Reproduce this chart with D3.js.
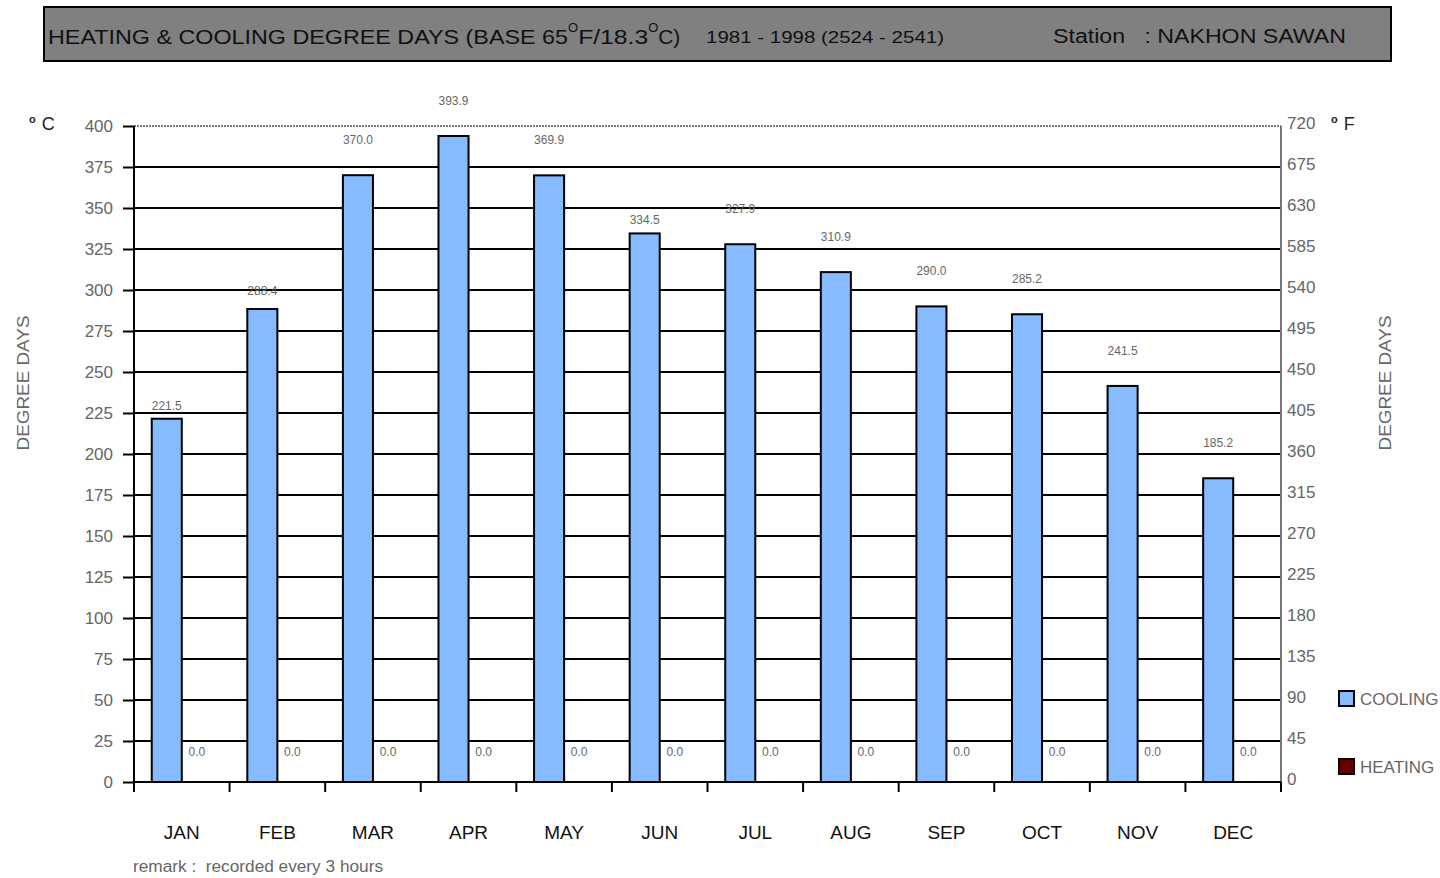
<!DOCTYPE html>
<html>
<head>
<meta charset="utf-8">
<script src="https://cdn.jsdelivr.net/npm/d3@7"></script>
<style>
  body { margin: 0; background: #fff; }
  svg { display: block; font-family: "Liberation Sans", Arial, sans-serif; }
</style>
</head>
<body>
<svg id="chart" width="1440" height="878"></svg>
<script>
// Monthly degree days, Nakhon Sawan 1981-1998
const months = ['JAN', 'FEB', 'MAR', 'APR', 'MAY', 'JUN', 'JUL', 'AUG', 'SEP', 'OCT', 'NOV', 'DEC'];
const cooling = [221.5, 288.4, 370.0, 393.9, 369.9, 334.5, 327.9, 310.9, 290.0, 285.2, 241.5, 185.2];
const heating = [0, 0, 0, 0, 0, 0, 0, 0, 0, 0, 0, 0];
const seriesNames = ['COOLING', 'HEATING'];
const celsiusTicks = d3.range(0, 401, 25);
const fahrenheitTicks = d3.range(0, 721, 45);

// label lift above bar top (Excel placed some labels lower)
const labelLift = [9, 14, 31, 31, 31, 9, 31, 31, 31, 31, 31, 31];

const colors = { COOLING: '#86bcff', HEATING: '#660000' };

const svg = d3.select('#chart');
const plot = { left: 134, right: 1281, top: 126, bottom: 782 };

const x0 = d3.scaleBand().domain(months).range([plot.left, plot.right]);
const x1 = d3.scaleBand().domain(seriesNames).range([0, x0.bandwidth()]).paddingOuter(0.59);
const y = d3.scaleLinear().domain([0, 400]).range([plot.bottom, plot.top]);
const yF = d3.scaleLinear().domain([0, 720]).range([plot.bottom, plot.top]);

// Title box
const title = svg.append('g');
title.append('rect')
  .attr('x', 44).attr('y', 7).attr('width', 1347).attr('height', 54)
  .attr('fill', '#808080').attr('stroke', '#000').attr('stroke-width', 2);
const t1 = title.append('text').attr('x', 48).attr('y', 44)
  .attr('font-size', 21).attr('fill', '#111');
t1.append('tspan').attr('textLength', 520).attr('lengthAdjust', 'spacingAndGlyphs')
  .text('HEATING & COOLING DEGREE DAYS (BASE 65');
t1.append('tspan').attr('dy', -12).attr('font-size', 13).text('O');
t1.append('tspan').attr('dy', 12).attr('textLength', 70).attr('lengthAdjust', 'spacingAndGlyphs').text('F/18.3');
t1.append('tspan').attr('dy', -12).attr('font-size', 13).text('O');
t1.append('tspan').attr('dy', 12).attr('textLength', 22).attr('lengthAdjust', 'spacingAndGlyphs').text('C)');
title.append('text').attr('x', 706).attr('y', 43)
  .attr('font-size', 17).attr('fill', '#111')
  .attr('textLength', 238).attr('lengthAdjust', 'spacingAndGlyphs')
  .text('1981 - 1998 (2524 - 2541)');
title.append('text').attr('x', 1053).attr('y', 43)
  .attr('font-size', 20).attr('fill', '#111')
  .attr('textLength', 293).attr('lengthAdjust', 'spacingAndGlyphs')
  .attr('xml:space', 'preserve')
  .text('Station   : NAKHON SAWAN');

// Grid lines
const grid = svg.append('g');
grid.selectAll('line')
  .data(celsiusTicks.filter(d => d > 0))
  .join('line')
  .attr('x1', plot.left).attr('x2', plot.right)
  .attr('y1', d => y(d)).attr('y2', d => y(d))
  .attr('stroke', d => (d === 400 ? '#777' : '#000'))
  .attr('stroke-width', d => (d === 400 ? 2 : 1.8))
  .attr('stroke-dasharray', d => (d === 400 ? '2,1' : null));

// Bars
const groups = svg.append('g')
  .selectAll('g')
  .data(months.map((m, i) => ({ month: m, i, values: [cooling[i], heating[i]] })))
  .join('g')
  .attr('transform', d => `translate(${x0(d.month)},0)`);

groups.selectAll('rect')
  .data(d => d.values.map((v, k) => ({ key: seriesNames[k], value: v })))
  .join('rect')
  .filter(d => d.value > 0)
  .attr('x', d => x1(d.key))
  .attr('width', x1.bandwidth())
  .attr('y', d => y(d.value))
  .attr('height', d => y(0) - y(d.value))
  .attr('fill', d => colors[d.key])
  .attr('stroke', '#000')
  .attr('stroke-width', 2);

groups.selectAll('text.val')
  .data(d => d.values.map((v, k) => ({ key: seriesNames[k], value: v, i: d.i })))
  .join('text')
  .attr('class', 'val')
  .attr('x', d => x1(d.key) + x1.bandwidth() / 2)
  .attr('y', d => y(d.value) - (d.key === 'COOLING' ? labelLift[d.i] : 26))
  .attr('text-anchor', 'middle')
  .attr('font-size', 12)
  .attr('fill', '#666')
  .text(d => d.value.toFixed(1));

// Left axis
const left = svg.append('g')
  .attr('transform', `translate(${plot.left},0)`)
  .call(d3.axisLeft(y).tickValues(celsiusTicks).tickSize(11).tickPadding(10));
left.select('.domain').attr('stroke', '#000').attr('stroke-width', 2).attr('d', `M0,${plot.top}V${plot.bottom}`);
left.selectAll('.tick line').attr('stroke', '#000').attr('stroke-width', 2);
left.selectAll('.tick text').attr('font-size', 17).attr('fill', '#666')
  .attr('font-family', '"Liberation Sans", Arial, sans-serif');

// Right axis (Fahrenheit)
const right = svg.append('g')
  .attr('transform', `translate(${plot.right},0)`)
  .call(d3.axisRight(yF).tickValues(fahrenheitTicks).tickSize(0).tickPadding(6));
right.select('.domain').attr('stroke', '#777').attr('stroke-width', 2).attr('d', `M0,${plot.top}V${plot.bottom + 8}`);
right.selectAll('.tick text').attr('font-size', 17).attr('fill', '#666').attr('dy', '0.15em')
  .attr('font-family', '"Liberation Sans", Arial, sans-serif');

// Bottom axis
const bottom = svg.append('g').attr('transform', `translate(0,${plot.bottom})`);
bottom.append('line')
  .attr('x1', plot.left).attr('x2', plot.right)
  .attr('stroke', '#000').attr('stroke-width', 2);
bottom.selectAll('line.tk')
  .data(months.map(m => x0(m)).concat([plot.right]))
  .join('line')
  .attr('class', 'tk')
  .attr('x1', d => d).attr('x2', d => d)
  .attr('y1', 0).attr('y2', 10)
  .attr('stroke', '#000').attr('stroke-width', 2);
bottom.selectAll('text')
  .data(months)
  .join('text')
  .attr('x', d => x0(d) + x0.bandwidth() / 2)
  .attr('y', 57)
  .attr('text-anchor', 'middle')
  .attr('font-size', 19)
  .attr('fill', '#111')
  .text(d => d);

// Unit labels
function unit(xPos, yPos, letter) {
  const g = svg.append('text').attr('x', xPos).attr('y', yPos).attr('font-size', 18).attr('fill', '#222');
  g.append('tspan').attr('font-size', 11).attr('dy', -7).attr('font-weight', 'bold').text('o');
  g.append('tspan').attr('dy', 7).attr('dx', 6).text(letter);
}
unit(29, 130, 'C');
unit(1331, 130, 'F');

// Axis titles
[29, 1391].forEach(xPos => {
  svg.append('text')
    .attr('transform', `translate(${xPos},383) rotate(-90)`)
    .attr('text-anchor', 'middle').attr('font-size', 17).attr('fill', '#666')
    .attr('textLength', 135).attr('lengthAdjust', 'spacingAndGlyphs')
    .text('DEGREE DAYS');
});

// Legend
const legend = svg.append('g')
  .selectAll('g')
  .data(seriesNames)
  .join('g')
  .attr('transform', (d, i) => `translate(1339,${691 + i * 68})`);
legend.append('rect')
  .attr('width', 15).attr('height', 15)
  .attr('fill', d => colors[d]).attr('stroke', '#000').attr('stroke-width', 2);
legend.append('text')
  .attr('x', 21).attr('y', 14)
  .attr('font-size', 17).attr('fill', '#666')
  .text(d => d);

// Remark
svg.append('text')
  .attr('x', 133).attr('y', 872)
  .attr('font-size', 16).attr('fill', '#666')
  .attr('xml:space', 'preserve')
  .attr('textLength', 250).attr('lengthAdjust', 'spacingAndGlyphs')
  .text('remark :  recorded every 3 hours');
</script>
</body>
</html>
